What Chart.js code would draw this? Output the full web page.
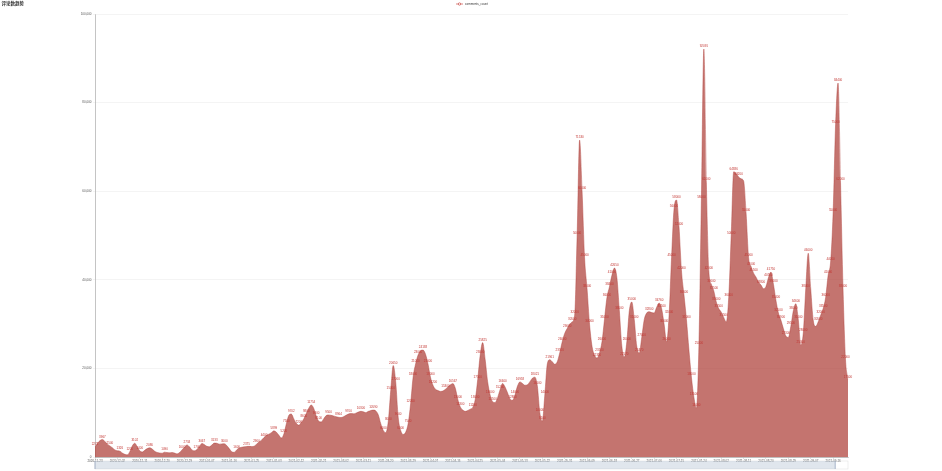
<!DOCTYPE html>
<html>
<head>
<meta charset="utf-8">
<script src="https://cdn.jsdelivr.net/npm/chart.js@4.4.0/dist/chart.umd.min.js"></script>
<style>
  html, body { margin: 0; padding: 0; background: #fff; }
  #wrap { width: 942px; height: 471px; }
</style>
</head>
<body>
<div id="wrap"><canvas id="trendChart" width="942" height="471"></canvas></div>
<script>
const TITLE = '评论数趋势';
const SERIES_NAME = 'comments_count';
const START_DATE = '2020-11-23';
const LABEL_EVERY = 9; // one date label every 9 days

// daily comment counts
const commentCounts = [
  2271, 3100, 3700, 3967, 3500, 2900, 2500, 2083, 1600, 1400,
  1326, 900, 600, 480, 1200, 2500, 3102, 2300, 1400, 1132,
  1500, 1900, 2086, 1800, 1300, 1031, 900, 850, 1090, 1000,
  950, 1022, 900, 700, 1000, 1600, 2200, 2734, 2300, 1600,
  1400, 1700, 2300, 3067, 2800, 2400, 2300, 2700, 3133, 3100,
  2900, 2950, 3000, 2600, 1900, 1200, 1050, 1600, 2020, 2200,
  2300, 2375, 2400, 2350, 2430, 2900, 3400, 3800, 4400, 4900,
  5160, 5500, 5899, 5600, 4900, 4300, 5200, 7500, 9400, 9702,
  8600, 7600, 7200, 7800, 8600, 9800, 11000, 11754, 11000, 9300,
  8100, 7900, 8600, 9344, 9500, 9400, 9271, 9100, 8964, 8900,
  9100, 9400, 9700, 9800, 9750, 9900, 10150, 10300, 10200, 10012,
  10300, 10500, 10590, 10400, 9500, 7500, 6000, 5500, 8000, 15000,
  20650, 17000, 9000, 6000, 5100, 5600, 7500, 12000, 18000, 21000,
  23000, 24000, 24138, 23200, 21000, 18000, 16200, 15300, 15000, 14800,
  14900, 15300, 15800, 16300, 16567, 15500, 13000, 11300, 10600, 10300,
  10500, 10800, 11200, 13000, 17500, 23000, 25825, 22000, 17000, 14000,
  12500, 12300, 13400, 15200, 16600, 15800, 14500, 13100, 12800, 14000,
  16000, 16958, 16600, 16200, 16300, 17000, 17800, 18021, 16000, 10000,
  8100, 14000, 21000, 21961, 21500, 20909, 21500, 23500, 26000, 27900,
  29000, 30000, 30500, 32000, 50000, 71530, 60000, 45000, 38000, 30000,
  25000, 23000, 22350, 23500, 26000, 31000, 36000, 38400, 41000, 42650,
  40500, 33000, 25000, 22570, 26000, 33000, 35000, 31000, 25000, 23470,
  27000, 31000, 32500, 32800, 32600, 32500, 33800, 34760, 33500, 30000,
  26000, 32000, 45000, 56000, 58000, 52000, 42000, 36600, 31000, 24150,
  18000, 13500, 11000, 25000, 58000, 92091, 62000, 42000, 39000, 37500,
  35000, 33500, 32700, 31500, 30470, 36000, 50000, 64386, 64000, 63200,
  62800, 62300, 55000, 45000, 43000, 41500, 40600, 39500, 38800, 38000,
  38500, 40500, 41750, 39000, 35400, 32500, 30900, 29000, 27300, 27000,
  29500, 33000, 34600, 31000, 25300, 28000, 38000, 46000, 38000, 30900,
  29500, 30500, 32000, 33500, 36000, 41000, 44000, 55000, 75000, 84400,
  62000, 38000, 22000, 17500
];

// one category per day starting at START_DATE
const dates = [];
const d0 = new Date(START_DATE + 'T00:00:00Z');
for (let i = 0; i < commentCounts.length; i++) {
  const d = new Date(d0.getTime() + i * 86400000);
  dates.push(d.toISOString().slice(0, 10));
}

const RED = '#c23531';

const decorations = {
  id: 'decorations',
  afterDatasetsDraw(chart) {
    // value labels above points, highest first, overlapping ones dropped
    const ctx = chart.ctx;
    const meta = chart.getDatasetMeta(0);
    ctx.save();
    ctx.font = '3px sans-serif';
    ctx.fillStyle = RED;
    ctx.textAlign = 'center';
    ctx.textBaseline = 'bottom';
    const order = commentCounts.map((_, i) => i).sort((a, b) => commentCounts[b] - commentCounts[a]);
    const placed = [];
    order.forEach(i => {
      const p = meta.data[i];
      const txt = String(commentCounts[i]);
      const w = ctx.measureText(txt).width;
      const box = { l: p.x - w / 2 - 1.5, r: p.x + w / 2 + 1.5, t: p.y - 6, b: p.y - 1 };
      if (placed.some(q => box.l < q.r && box.r > q.l && box.t < q.b && box.b > q.t)) return;
      placed.push(box);
      ctx.fillText(txt, p.x, p.y - 1.2);
    });
    ctx.restore();
  },
  afterDraw(chart) {
    const ctx = chart.ctx;
    const area = chart.chartArea;
    ctx.save();

    // title
    ctx.font = 'bold 4.5px "Noto Sans CJK SC", sans-serif';
    ctx.fillStyle = '#333';
    ctx.textAlign = 'left';
    ctx.textBaseline = 'top';
    ctx.fillText(TITLE, 1.5, 1.5);

    // legend
    const lx = 456, ly = 4;
    ctx.strokeStyle = RED;
    ctx.lineWidth = 0.6;
    ctx.beginPath();
    ctx.moveTo(lx, ly);
    ctx.lineTo(lx + 7, ly);
    ctx.stroke();
    ctx.beginPath();
    ctx.arc(lx + 3.5, ly, 1.2, 0, Math.PI * 2);
    ctx.fillStyle = '#fff';
    ctx.fill();
    ctx.stroke();
    ctx.font = '3px sans-serif';
    ctx.fillStyle = '#333';
    ctx.textBaseline = 'middle';
    ctx.fillText(SERIES_NAME, lx + 9, ly);

    // data zoom slider
    const sy = 461, sh = 8;
    ctx.strokeStyle = '#ddd';
    ctx.lineWidth = 0.5;
    ctx.strokeRect(area.left, sy, area.right - area.left, sh);
    const winRight = area.left + (area.right - area.left) * 0.983;
    ctx.fillStyle = 'rgba(167,183,204,0.35)';
    ctx.fillRect(area.left, sy, winRight - area.left, sh);
    ctx.fillStyle = 'rgba(150,165,190,0.8)';
    ctx.fillRect(area.left - 0.5, sy, 1, sh);
    ctx.fillRect(winRight - 0.5, sy, 1, sh);

    ctx.restore();
  }
};

new Chart(document.getElementById('trendChart').getContext('2d'), {
  type: 'line',
  data: {
    labels: dates,
    datasets: [{
      label: SERIES_NAME,
      data: commentCounts,
      borderColor: 'rgba(175,60,55,0.85)',
      borderWidth: 0.5,
      backgroundColor: 'rgba(173,62,56,0.72)',
      fill: 'origin',
      pointRadius: 0,
      cubicInterpolationMode: 'monotone'
    }]
  },
  options: {
    responsive: false,
    animation: false,
    devicePixelRatio: 1,
    layout: { padding: { top: 14, right: 94, left: 0, bottom: 0 } },
    plugins: {
      legend: { display: false },
      title: { display: false },
      tooltip: { enabled: false }
    },
    scales: {
      x: {
        offset: false,
        grid: {
          display: true,
          drawOnChartArea: false,
          tickLength: 1.5,
          lineWidth: 0.5,
          color: c => (c.index % LABEL_EVERY === 0 ? '#888' : 'rgba(0,0,0,0)')
        },
        border: { color: '#888', width: 0.5 },
        ticks: {
          autoSkip: false,
          maxRotation: 0,
          minRotation: 0,
          padding: 1,
          font: { size: 3 },
          color: '#555',
          callback(v, i) { return i % LABEL_EVERY === 0 ? this.getLabelForValue(v) : ''; }
        },
        afterFit(s) { s.height = 14; }
      },
      y: {
        min: 0,
        max: 100000,
        ticks: { stepSize: 20000, font: { size: 3 }, color: '#555', padding: 1.5 },
        grid: { color: '#e8e8e8', lineWidth: 0.5, tickLength: 2 },
        border: { color: '#888', width: 0.5 },
        afterFit(s) { s.width = 95; }
      }
    }
  },
  plugins: [decorations]
});
</script>
</body>
</html>
